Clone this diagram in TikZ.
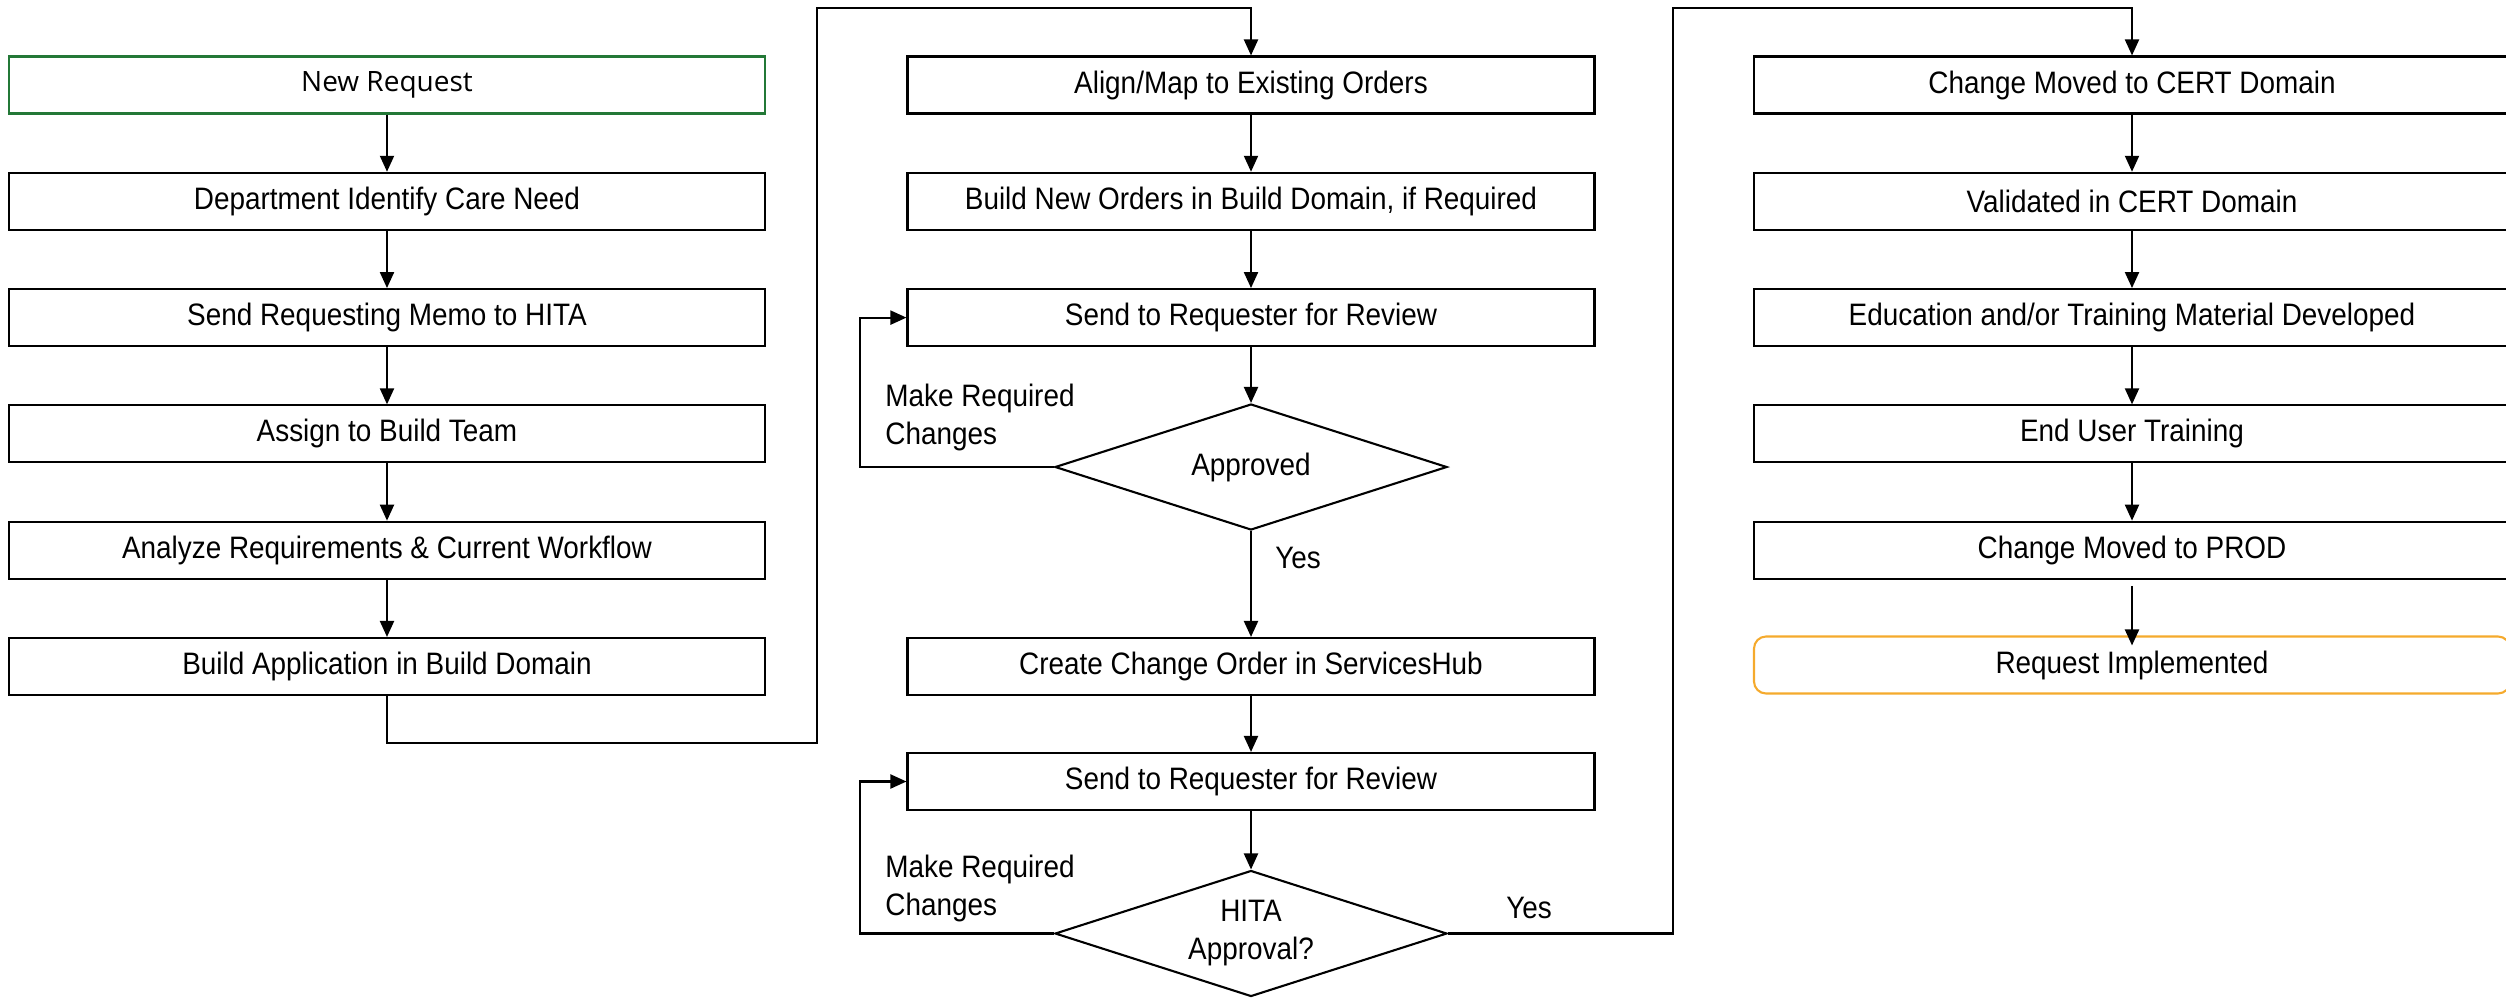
\documentclass[tikz,border=0pt]{standalone}
\usepackage{fontspec}
\setmainfont{Liberation Sans}[FakeStretch=0.9]
\newfontfamily\nrfont{Open Sans}
\usetikzlibrary{shapes.geometric,arrows.meta}
\definecolor{startgreen}{RGB}{35,120,55}
\definecolor{endorange}{RGB}{245,170,45}
\tikzset{
  box/.style={draw, line width=1.05pt, minimum height=28.5pt, inner sep=0pt, align=center},
  lbox/.style={box, minimum width=378pt},
  mbox/.style={box, minimum width=343.5pt},
  dec/.style={draw, diamond, aspect=3.1, line width=1.05pt, minimum width=196pt, minimum height=63pt, inner sep=0pt, align=center},
  ln/.style={line width=1.05pt},
  arr/.style={ln, -{Triangle[length=8pt,width=7pt]}},
  lbl/.style={align=left, inner sep=0pt, font=\fontsize{15.5}{19}\selectfont}
}
\begin{document}
\begin{tikzpicture}[x=0.5pt,y=-0.5pt,font=\fontsize{15.5}{19}\selectfont]
\useasboundingbox (0,0) rectangle (2506,998);
\clip (0,0) rectangle (2506,998);
% left column
\node[lbox, draw=startgreen, font=\nrfont\fontsize{14}{16}\selectfont] (n1) at (387,85) {New Request};
\node[lbox] (n2) at (387,201.3) {Department Identify Care Need};
\node[lbox] (n3) at (387,317.6) {Send Requesting Memo to HITA};
\node[lbox] (n4) at (387,433.9) {Assign to Build Team};
\node[lbox] (n5) at (387,550.2) {Analyze Requirements \& Current Workflow};
\node[lbox] (n6) at (387,666.5) {Build Application in Build Domain};
% middle column
\node[mbox] (m1) at (1251,85) {Align/Map to Existing Orders};
\node[mbox] (m2) at (1251,201.3) {Build New Orders in Build Domain, if Required};
\node[mbox] (m3) at (1251,317.6) {Send to Requester for Review};
\node[dec] (d1) at (1251,467) {Approved};
\node[mbox] (m4) at (1251,666.5) {Create Change Order in ServicesHub};
\node[mbox] (m5) at (1251,781.5) {Send to Requester for Review};
\node[dec] (d2) at (1251,933.5) {HITA\\Approval?};
% right column
\node[lbox] (r1) at (2132,85) {Change Moved to CERT Domain};
\node[lbox] (r2) at (2132,201.3) {Validated in CERT Domain};
\node[lbox] (r3) at (2132,317.6) {Education and/or Training Material Developed};
\node[lbox] (r4) at (2132,433.9) {End User Training};
\node[lbox] (r5) at (2132,550.2) {Change Moved to PROD};
\node[lbox, draw=endorange, rounded corners=6pt] (r6) at (2132,665) {Request Implemented};
% labels
\node[lbl, anchor=west] (t1) at (885,417) {Make Required\\Changes};
\node[lbl, anchor=west] (t2) at (885,888.5) {Make Required\\Changes};
\node[lbl] (y1) at (1298,558) {Yes};
\node[lbl] (y2) at (1529,908) {Yes};
% coordinates
\coordinate (c1) at (817,743);
\coordinate (c2) at (817,8);
\coordinate (c3) at (1673,8);
\coordinate (lp) at (860,0);
% connectors left
\draw[arr] (n1) -- (n2);
\draw[arr] (n2) -- (n3);
\draw[arr] (n3) -- (n4);
\draw[arr] (n4) -- (n5);
\draw[arr] (n5) -- (n6);
\draw[arr] (n6.south) -- (n6.south |- c1) -- (c1) -- (c2) -- (c2 -| m1.north) -- (m1.north);
% middle
\draw[arr] (m1) -- (m2);
\draw[arr] (m2) -- (m3);
\draw[arr] (m3) -- (d1);
\draw[arr] (d1.west) -- (d1.west -| lp) |- (m3.west);
\draw[arr] (d1) -- (m4);
\draw[arr] (m4) -- (m5);
\draw[arr] (m5) -- (d2);
\draw[arr] (d2.west) -- (d2.west -| lp) |- (m5.west);
\draw[arr] (d2.east) -| (c3) -- (c3 -| r1.north) -- (r1.north);
% right
\draw[arr] (r1) -- (r2);
\draw[arr] (r2) -- (r3);
\draw[arr] (r3) -- (r4);
\draw[arr] (r4) -- (r5);
\draw[arr, shorten <=3pt, shorten >=-5pt] (r5) -- (r6);
\end{tikzpicture}
\end{document}
